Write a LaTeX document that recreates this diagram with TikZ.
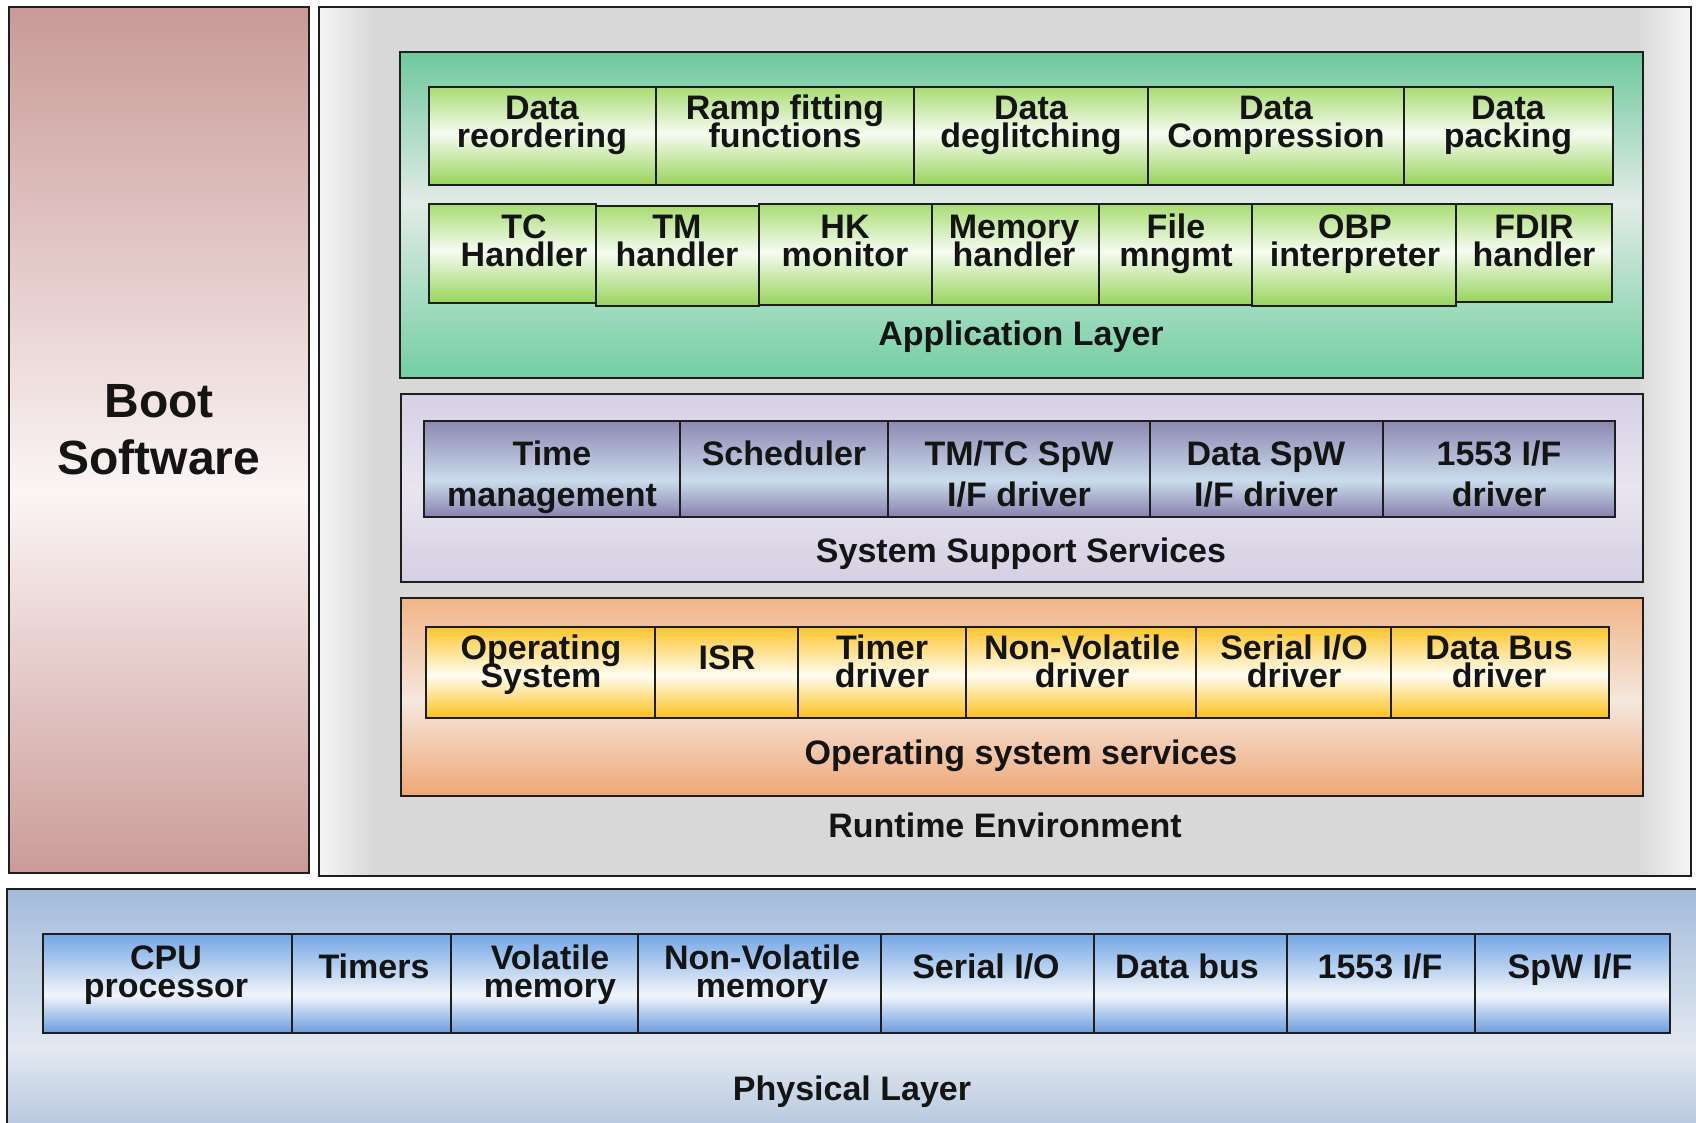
\documentclass[tikz,border=0pt]{standalone}
\usepackage{fontspec}
\setmainfont{Liberation Sans}

% ---------- colours ----------
\definecolor{linec}{HTML}{1E1E1E}
\definecolor{txt}{HTML}{141414}
\definecolor{bootT}{HTML}{C99A97}
\definecolor{bootM}{HTML}{FBF5F5}
\definecolor{bootB}{HTML}{CB9B98}
\definecolor{envE}{HTML}{F5F5F5}
\definecolor{envG}{HTML}{D8D8D8}
\definecolor{appT}{HTML}{6EC99D}
\definecolor{appM}{HTML}{E3EBE7}
\definecolor{appB}{HTML}{72CFA2}
\definecolor{grnT}{HTML}{A8DC72}
\definecolor{grnM}{HTML}{F6FBF2}
\definecolor{grnB}{HTML}{98D45A}
\definecolor{sssT}{HTML}{D6D0E5}
\definecolor{sssM}{HTML}{E8E5EF}
\definecolor{sssB}{HTML}{D5CFE3}
\definecolor{purT}{HTML}{8D88B3}
\definecolor{purM}{HTML}{CADCEC}
\definecolor{purB}{HTML}{8780AD}
\definecolor{ossT}{HTML}{F1B587}
\definecolor{ossM}{HTML}{F5E7DE}
\definecolor{ossB}{HTML}{EFA776}
\definecolor{ylwT}{HTML}{FCC52C}
\definecolor{ylwM}{HTML}{FFFDF2}
\definecolor{ylwB}{HTML}{FBC11C}
\definecolor{phyT}{HTML}{A3BBDB}
\definecolor{phyM}{HTML}{E3E9F1}
\definecolor{phyB}{HTML}{B4C6DE}
\definecolor{bluT}{HTML}{74A6E6}
\definecolor{bluM}{HTML}{F2F5FA}
\definecolor{bluB}{HTML}{6A9BE0}

% ---------- shadings (0bp = bottom / left, box spans 25bp..75bp) ----------
\pgfdeclareverticalshading{bootshade}{100bp}{color(0bp)=(bootB); color(25bp)=(bootB); color(47bp)=(bootM); color(75bp)=(bootT); color(100bp)=(bootT)}
\pgfdeclarehorizontalshading{envshade}{100bp}{color(0bp)=(envE); color(25bp)=(envE); color(27bp)=(envG); color(73bp)=(envG); color(75bp)=(envE); color(100bp)=(envE)}
\pgfdeclareverticalshading{appshade}{100bp}{color(0bp)=(appB); color(25bp)=(appB); color(52bp)=(appM); color(75bp)=(appT); color(100bp)=(appT)}
\pgfdeclareverticalshading{greencell}{100bp}{color(0bp)=(grnB); color(25bp)=(grnB); color(51.5bp)=(grnM); color(75bp)=(grnT); color(100bp)=(grnT)}
\pgfdeclareverticalshading{sssshade}{100bp}{color(0bp)=(sssB); color(25bp)=(sssB); color(50bp)=(sssM); color(75bp)=(sssT); color(100bp)=(sssT)}
\pgfdeclareverticalshading{purplecell}{100bp}{color(0bp)=(purB); color(25bp)=(purB); color(44bp)=(purM); color(75bp)=(purT); color(100bp)=(purT)}
\pgfdeclareverticalshading{ossshade}{100bp}{color(0bp)=(ossB); color(25bp)=(ossB); color(49bp)=(ossM); color(75bp)=(ossT); color(100bp)=(ossT)}
\pgfdeclareverticalshading{yellowcell}{100bp}{color(0bp)=(ylwB); color(25bp)=(ylwB); color(48.5bp)=(ylwM); color(75bp)=(ylwT); color(100bp)=(ylwT)}
\pgfdeclareverticalshading{physhade}{100bp}{color(0bp)=(phyB); color(25bp)=(phyB); color(42.5bp)=(phyM); color(75bp)=(phyT); color(100bp)=(phyT)}
\pgfdeclareverticalshading{bluecell}{100bp}{color(0bp)=(bluB); color(25bp)=(bluB); color(44bp)=(bluM); color(75bp)=(bluT); color(100bp)=(bluT)}

% two centred lines, baseline of the whole block = baseline of the first line
\newcommand\twol[2]{\vtop{\lineskiplimit=-100pt\lineskip=0pt\halign{\hfil##\hfil\cr#1\cr#2\cr}}}

\tikzset{
  frame/.style={draw=linec, line width=2.2pt, shade, inner sep=0pt, outer sep=0pt, anchor=north west},
  lbl/.style={inner sep=0pt, anchor=base, text=txt, font=\fontsize{34}{#1}\selectfont\bfseries},
  lbl/.default=28.5,
}

% \blk{name}{x1}{y1}{x2}{y2}{shading}
\newcommand\blk[6]{\node[frame, shading=#6, minimum width=#4-#2, minimum height=#5-#3] (#1) at (#2,#3) {};}

\begin{document}
\begin{tikzpicture}[x=1pt,y=-1pt]
\useasboundingbox (0,0) rectangle (1696,1122);
\fill[white] (0,0) rectangle (1696,1122);
\clip (0,0) rectangle (1696,1122);

% ---------- outer blocks ----------
\blk{boot}{9}{7}{309}{873}{bootshade}
\blk{env}{319}{7}{1691}{876}{envshade}
\blk{phys}{7}{889}{1702}{1132}{physhade}

% ---------- layers of the runtime environment ----------
\blk{app}{400}{52}{1643}{378}{appshade}
\blk{sss}{401}{394}{1643}{582}{sssshade}
\blk{oss}{401}{598}{1643}{796}{ossshade}

% ---------- application layer, first row ----------
\blk{reord}{429}{87}{656}{185}{greencell}
\blk{ramp}{656}{87}{914}{185}{greencell}
\blk{degl}{914}{87}{1148}{185}{greencell}
\blk{compr}{1148}{87}{1404}{185}{greencell}
\blk{pack}{1404}{87}{1613}{185}{greencell}

% ---------- application layer, second row ----------
\blk{tch}{429}{204}{596}{303}{greencell}
\blk{tmh}{596}{206}{759}{306}{greencell}
\blk{hkm}{759}{204}{932}{305}{greencell}
\blk{memh}{932}{204}{1099}{305}{greencell}
\blk{filem}{1099}{204}{1252}{305}{greencell}
\blk{obp}{1252}{204}{1456}{306}{greencell}
\blk{fdir}{1456}{204}{1612}{302}{greencell}

% ---------- system support services ----------
\blk{tmgmt}{424}{421}{680}{517}{purplecell}
\blk{sched}{680}{421}{888}{517}{purplecell}
\blk{tmtc}{888}{421}{1150}{517}{purplecell}
\blk{dspw}{1150}{421}{1383}{517}{purplecell}
\blk{ifa}{1383}{421}{1615}{517}{purplecell}

% ---------- operating system services ----------
\blk{os}{426}{627}{655}{718}{yellowcell}
\blk{isr}{655}{627}{798}{718}{yellowcell}
\blk{timd}{798}{627}{966}{718}{yellowcell}
\blk{nvd}{966}{627}{1196}{718}{yellowcell}
\blk{siod}{1196}{627}{1391}{718}{yellowcell}
\blk{dbd}{1391}{627}{1609}{718}{yellowcell}

% ---------- physical layer ----------
\blk{cpu}{43}{934}{292}{1033}{bluecell}
\blk{tmr}{292}{934}{451}{1033}{bluecell}
\blk{vol}{451}{934}{638}{1033}{bluecell}
\blk{nvm}{638}{934}{881}{1033}{bluecell}
\blk{sio}{881}{934}{1094}{1033}{bluecell}
\blk{dbus}{1094}{934}{1287}{1033}{bluecell}
\blk{ifb}{1287}{934}{1475}{1033}{bluecell}
\blk{spw}{1475}{934}{1670}{1033}{bluecell}

% ---------- texts ----------
\node[lbl=57, font=\fontsize{48}{57}\selectfont\bfseries] (tboot) at (159,417) {\twol{Boot}{Software}};

\node[lbl] (treord) at (542,119) {\twol{Data}{reordering}};
\node[lbl] (tramp) at (785,119) {\twol{Ramp fitting}{functions}};
\node[lbl] (tdegl) at (1031,119) {\twol{Data}{deglitching}};
\node[lbl] (tcompr) at (1276,119) {\twol{Data}{Compression}};
\node[lbl] (tpack) at (1508,119) {\twol{Data}{packing}};

\node[lbl] (ttch) at (524,238) {\twol{TC}{Handler}};
\node[lbl] (ttmh) at (677,238) {\twol{TM}{handler}};
\node[lbl] (thkm) at (845,238) {\twol{HK}{monitor}};
\node[lbl] (tmemh) at (1014,238) {\twol{Memory}{handler}};
\node[lbl] (tfilem) at (1176,238) {\twol{File}{mngmt}};
\node[lbl] (tobp) at (1355,238) {\twol{OBP}{interpreter}};
\node[lbl] (tfdir) at (1534,238) {\twol{FDIR}{handler}};
\node[lbl] (tapp) at (1021,345) {Application Layer};

\node[lbl=41] (ttmgmt) at (552,465) {\twol{Time}{management}};
\node[lbl] (tsched) at (784,465) {Scheduler};
\node[lbl=41] (ttmtc) at (1019,465) {\twol{TM/TC SpW}{I/F driver}};
\node[lbl=41] (tdspw) at (1266,465) {\twol{Data SpW}{I/F driver}};
\node[lbl=41] (tifa) at (1499,465) {\twol{1553 I/F}{driver}};
\node[lbl] (tsss) at (1021,562) {System Support Services};

\node[lbl] (tos) at (541,659) {\twol{Operating}{System}};
\node[lbl] (tisr) at (727,669) {ISR};
\node[lbl] (ttimd) at (882,659) {\twol{Timer}{driver}};
\node[lbl] (tnvd) at (1082,659) {\twol{Non-Volatile}{driver}};
\node[lbl] (tsiod) at (1294,659) {\twol{Serial I/O}{driver}};
\node[lbl] (tdbd) at (1499,659) {\twol{Data Bus}{driver}};
\node[lbl] (toss) at (1021,764) {Operating system services};

\node[lbl] (tenv) at (1005,837) {Runtime Environment};

\node[lbl] (tcpu) at (166,969) {\twol{CPU}{processor}};
\node[lbl] (ttmr) at (374,978) {Timers};
\node[lbl] (tvol) at (550,969) {\twol{Volatile}{memory}};
\node[lbl] (tnvm) at (762,969) {\twol{Non-Volatile}{memory}};
\node[lbl] (tsio) at (986,978) {Serial I/O};
\node[lbl] (tdbus) at (1187,978) {Data bus};
\node[lbl] (tifb) at (1380,978) {1553 I/F};
\node[lbl] (tspw) at (1570,978) {SpW I/F};
\node[lbl] (tphys) at (852,1100) {Physical Layer};
\end{tikzpicture}
\end{document}
